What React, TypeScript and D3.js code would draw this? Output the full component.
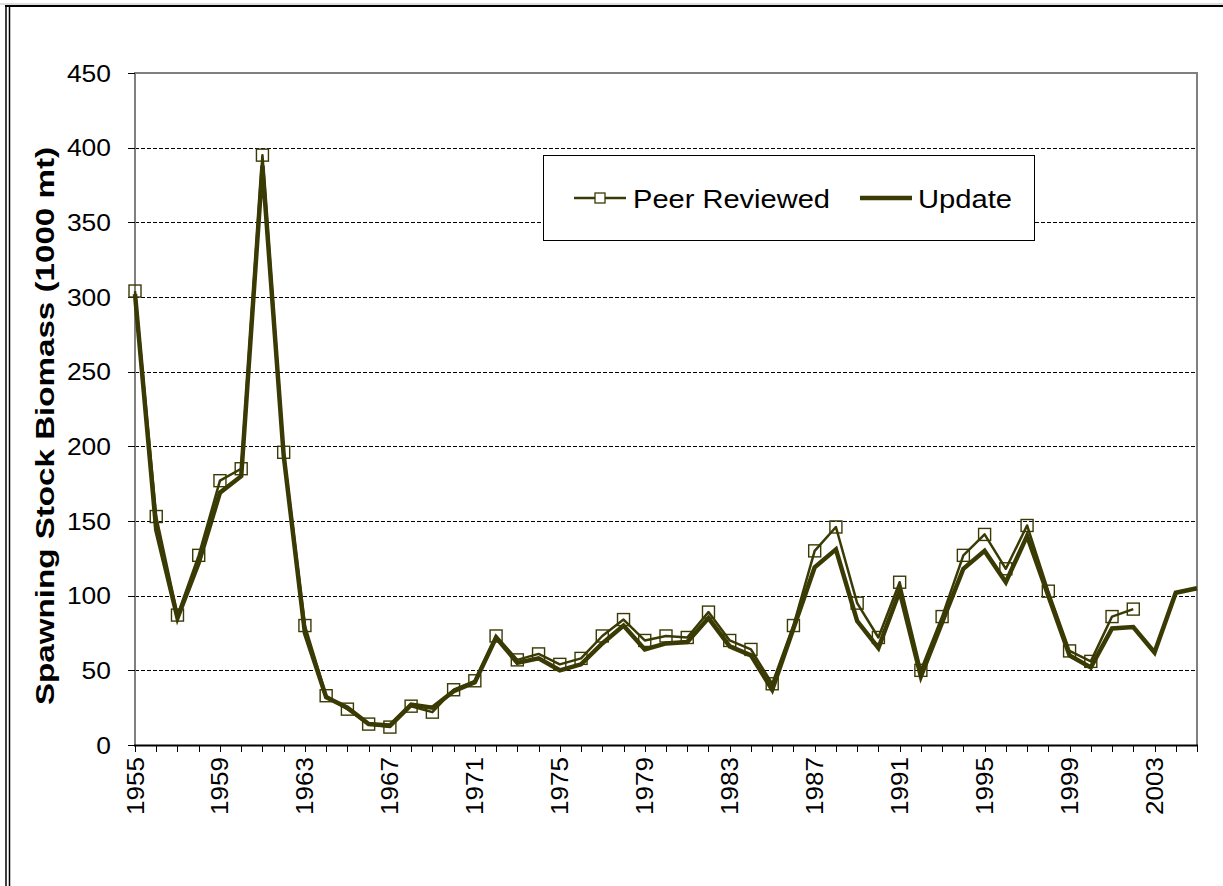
import React, { useEffect, useRef } from "react";
import * as d3 from "d3";

const years: number[] = d3.range(1955, 2006);
const peerReviewed: number[] = [
  304, 153, 87, 127, 177, 185, 395, 196, 80, 33,
  24, 14, 12, 26, 22, 37, 43, 73, 57, 61,
  54, 58, 73, 84, 70, 73, 72, 89, 70, 64,
  41, 80, 130, 146, 95, 72, 109, 50, 86, 127,
  141, 118, 147, 103, 63, 56, 86, 91,
];
const update: number[] = [
  302, 144, 85, 122, 169, 180, 388, 194, 75, 32,
  25, 14, 13, 27, 25, 36, 42, 72, 55, 58,
  50, 54, 68, 80, 64, 68, 69, 85, 66, 60,
  37, 78, 119, 131, 83, 65, 103, 46, 82, 118,
  130, 109, 140, 100, 60, 52, 78, 79, 62, 102, 105,
];
const yTicks: number[] = [0, 50, 100, 150, 200, 250, 300, 350, 400, 450];
const xLabelYears: number[] = [1955, 1959, 1963, 1967, 1971, 1975, 1979, 1983, 1987, 1991, 1995, 1999, 2003];
const seriesNames: string[] = ["Peer Reviewed", "Update"];

const COLOR = "#3a3a04";
const FONT = "'Liberation Sans', Arial, sans-serif";

export default function App() {
  const ref = useRef<SVGSVGElement>(null);

  useEffect(() => {
    const svg = d3.select(ref.current);
    svg.selectAll("*").remove();

    const left = 135, right = 1197, top = 73, bottom = 745;
    const x = d3.scaleLinear().domain([1955, 2005]).range([left, right]);
    const y = d3.scaleLinear().domain([0, 450]).range([bottom, top]);

    // outer frame
    svg.append("line").attr("x1", 0).attr("x2", 1223).attr("y1", 4).attr("y2", 4).attr("stroke", "#bbb").attr("stroke-width", 1);
    svg.append("line").attr("x1", 5).attr("x2", 1223).attr("y1", 6).attr("y2", 6).attr("stroke", "#000").attr("stroke-width", 2);
    svg.append("line").attr("x1", 6).attr("x2", 6).attr("y1", 5).attr("y2", 886).attr("stroke", "#000").attr("stroke-width", 1.5);
    svg.append("line").attr("x1", 9.5).attr("x2", 9.5).attr("y1", 5).attr("y2", 886).attr("stroke", "#000").attr("stroke-width", 1.5);

    // gridlines
    yTicks.filter((t) => t > 0 && t < 450).forEach((t) => {
      svg.append("line")
        .attr("x1", left).attr("x2", right)
        .attr("y1", Math.round(y(t)) + 0.5).attr("y2", Math.round(y(t)) + 0.5)
        .attr("stroke", "#000").attr("stroke-width", 1)
        .attr("stroke-dasharray", "4,2");
    });

    // plot border (top & right gray)
    svg.append("path")
      .attr("d", `M${left},${top} H${right} V${bottom}`)
      .attr("fill", "none").attr("stroke", "#808080").attr("stroke-width", 2);

    // y axis
    svg.append("line").attr("x1", left).attr("x2", left).attr("y1", top - 1).attr("y2", bottom)
      .attr("stroke", "#808080").attr("stroke-width", 2);
    yTicks.forEach((t) => {
      svg.append("line").attr("x1", left - 7).attr("x2", left)
        .attr("y1", Math.round(y(t)) + 0.5).attr("y2", Math.round(y(t)) + 0.5)
        .attr("stroke", "#000").attr("stroke-width", 1);
      const s = String(t);
      svg.append("text")
        .attr("x", 111).attr("y", y(t))
        .attr("text-anchor", "end").attr("dominant-baseline", "central")
        .attr("font-family", FONT).attr("font-size", 24)
        .attr("textLength", s.length * 14.7).attr("lengthAdjust", "spacingAndGlyphs")
        .attr("fill", "#000").text(s);
    });

    // x axis
    svg.append("line").attr("x1", left - 1).attr("x2", right + 1).attr("y1", bottom + 0.5).attr("y2", bottom + 0.5)
      .attr("stroke", "#000").attr("stroke-width", 2);
    years.forEach((yr) => {
      const xx = Math.round(x(yr)) + 0.5;
      svg.append("line").attr("x1", xx).attr("x2", xx).attr("y1", bottom).attr("y2", bottom + 7)
        .attr("stroke", "#000").attr("stroke-width", 1);
    });
    xLabelYears.forEach((yr) => {
      svg.append("text")
        .attr("transform", `translate(${x(yr)},757) rotate(-90)`)
        .attr("text-anchor", "end").attr("dominant-baseline", "central")
        .attr("font-family", FONT).attr("font-size", 24)
        .attr("textLength", 58).attr("lengthAdjust", "spacingAndGlyphs")
        .attr("fill", "#000").text(String(yr));
    });

    // axis title
    svg.append("text")
      .attr("transform", `translate(45,426) rotate(-90)`)
      .attr("text-anchor", "middle").attr("dominant-baseline", "central")
      .attr("font-family", FONT).attr("font-size", 26).attr("font-weight", "bold")
      .attr("textLength", 558).attr("lengthAdjust", "spacingAndGlyphs")
      .attr("fill", "#000").text("Spawning Stock Biomass (1000 mt)");

    // series
    const line = d3.line<number>().x((_, i) => x(years[i])).y((d) => y(d));
    svg.append("path").datum(peerReviewed).attr("d", line)
      .attr("fill", "none").attr("stroke", COLOR).attr("stroke-width", 2.5).attr("stroke-linejoin", "round");
    svg.selectAll("rect.pm").data(peerReviewed).enter().append("rect")
      .attr("class", "pm")
      .attr("x", (_, i) => x(years[i]) - 6).attr("y", (d) => y(d) - 6)
      .attr("width", 12).attr("height", 12)
      .attr("fill", "none").attr("stroke", COLOR).attr("stroke-width", 1.4);
    svg.append("path").datum(update).attr("d", line)
      .attr("fill", "none").attr("stroke", COLOR).attr("stroke-width", 4.5).attr("stroke-linejoin", "miter");

    // legend
    svg.append("rect").attr("x", 543.5).attr("y", 155.5).attr("width", 491).attr("height", 85)
      .attr("fill", "#fff").attr("stroke", "#000").attr("stroke-width", 1);
    svg.append("line").attr("x1", 574).attr("x2", 626).attr("y1", 198).attr("y2", 198)
      .attr("stroke", COLOR).attr("stroke-width", 2.5);
    svg.append("rect").attr("x", 595).attr("y", 193).attr("width", 10).attr("height", 10)
      .attr("fill", "#fff").attr("stroke", COLOR).attr("stroke-width", 1.3);
    svg.append("text").attr("x", 633).attr("y", 199)
      .attr("dominant-baseline", "central")
      .attr("font-family", FONT).attr("font-size", 25)
      .attr("textLength", 197).attr("lengthAdjust", "spacingAndGlyphs")
      .attr("fill", "#000").text(seriesNames[0]);
    svg.append("line").attr("x1", 860).attr("x2", 912).attr("y1", 198).attr("y2", 198)
      .attr("stroke", COLOR).attr("stroke-width", 4.5);
    svg.append("text").attr("x", 918).attr("y", 199)
      .attr("dominant-baseline", "central")
      .attr("font-family", FONT).attr("font-size", 25)
      .attr("textLength", 94).attr("lengthAdjust", "spacingAndGlyphs")
      .attr("fill", "#000").text(seriesNames[1]);
  }, []);

  return (
    <svg
      ref={ref}
      width={1223}
      height={886}
      style={{ position: "absolute", left: 0, top: 0, background: "#fff" }}
    />
  );
}
